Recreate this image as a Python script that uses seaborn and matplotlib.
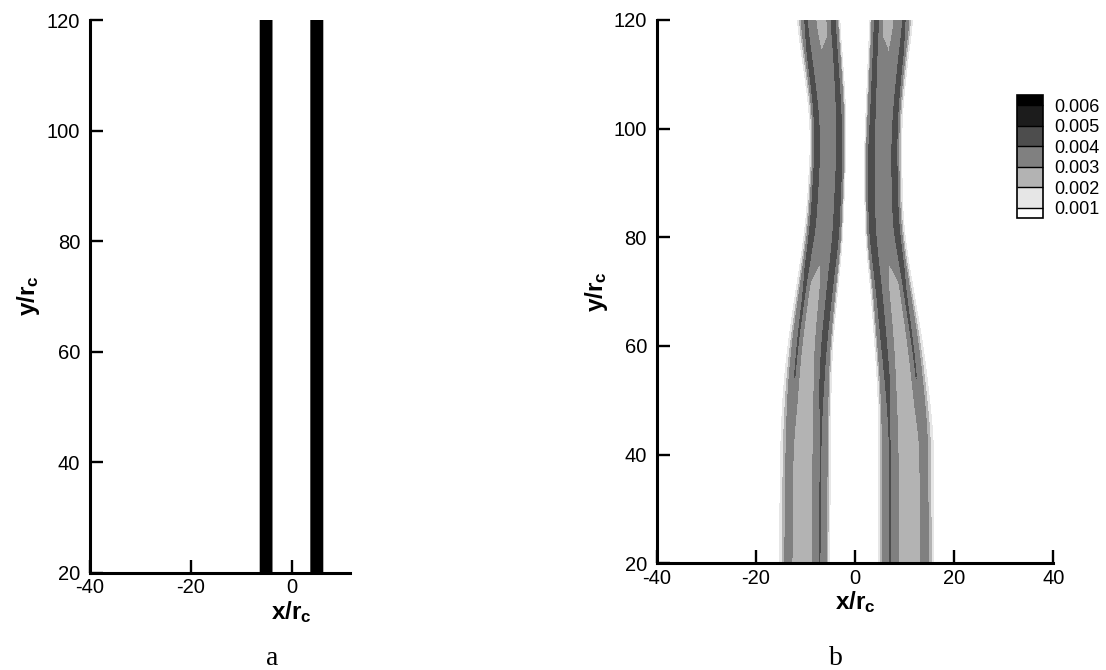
import numpy as np
import matplotlib
matplotlib.use("Agg")
import matplotlib.pyplot as plt
import seaborn as sns
from matplotlib.colors import ListedColormap

# ---------------- data ----------------
levels = [0.001, 0.002, 0.003, 0.004, 0.005, 0.006]
level_labels = ["0.001", "0.002", "0.003", "0.004", "0.005", "0.006"]
band_colors = ["#e6e6e6", "#b3b3b3", "#808080", "#4d4d4d", "#1c1c1c"]
under_color = "#ffffff"
over_color = "#000000"

xticks_a = [-40, -20, 0]
xticks_b = [-40, -20, 0, 20, 40]
yticks = [20, 40, 60, 80, 100, 120]
xlim_a = (-40, 11.6)
xlim_b = (-40, 40)
ylim = (20, 120)

# panel a: two straight bands (x/rc edges), uniform along y
a_y = [20, 120]
a_left_outer = [-6.4, -6.4]
a_left_inner = [-3.7, -3.7]
a_right_inner = [3.6, 3.6]
a_right_outer = [6.4, 6.4]
a_prof_s = [0.0, 0.1, 0.9, 1.0]
a_prof_y = [20, 120]
a_prof_v = [[1.5, 6.8, 6.8, 1.5],
            [1.5, 6.8, 6.8, 1.5]]   # x 1e-3

# panel b: curved bands, edges read at several heights
b_y = [20, 30, 43, 52, 60, 70, 78, 84, 96, 103, 112, 120]
b_left_outer = [-15.3, -15.2, -15.0, -14.5, -13.6, -12.0, -10.6, -9.8, -9.0, -9.2, -10.5, -11.8]
b_left_inner = [-5.1, -5.0, -4.9, -4.8, -4.5, -3.5, -2.6, -2.3, -1.8, -1.8, -2.4, -3.1]
b_right_inner = [4.8, 4.8, 4.8, 4.6, 4.0, 3.2, 2.3, 2.0, 1.9, 2.2, 2.6, 3.0]
b_right_outer = [16.0, 16.0, 15.9, 14.9, 13.8, 11.9, 10.4, 9.7, 9.4, 9.6, 10.6, 11.8]

# across-band profile (outer edge s=0 -> inner edge s=1), values x 1e-3
b_prof_s = [0.0, 0.04, 0.09, 0.14, 0.22, 0.32, 0.5, 0.68, 0.76, 0.80, 0.86, 0.93, 0.97, 1.0]
b_prof_y = [20, 43, 52, 70, 74, 79, 96, 103, 112, 120]
b_prof_v = [
    [0.9, 1.6, 2.7, 3.4, 3.2, 2.6, 2.5, 3.1, 3.7, 4.05, 3.6, 3.1, 1.7, 0.9],
    [0.9, 1.6, 2.7, 3.4, 3.2, 2.6, 2.5, 3.1, 3.7, 4.05, 3.6, 3.1, 1.7, 0.9],
    [0.9, 1.6, 2.8, 3.6, 4.02, 2.9, 2.6, 3.1, 4.05, 4.2, 3.9, 3.2, 1.7, 0.9],
    [0.9, 1.6, 3.0, 3.9, 4.1, 2.95, 2.7, 3.4, 4.15, 4.3, 4.1, 3.3, 1.7, 0.9],
    [0.9, 1.6, 3.1, 4.0, 4.1, 3.0, 2.75, 3.5, 4.2, 4.3, 4.1, 3.4, 1.7, 0.9],
    [0.9, 1.8, 3.3, 4.15, 4.2, 3.8, 3.5, 3.6, 4.1, 4.3, 4.2, 3.8, 1.9, 0.9],
    [0.9, 1.8, 3.3, 4.15, 4.2, 3.8, 3.5, 3.6, 4.1, 4.3, 4.2, 3.8, 1.9, 0.9],
    [0.9, 1.7, 3.2, 4.1, 4.15, 3.7, 3.4, 3.6, 4.1, 4.25, 4.1, 3.3, 1.7, 0.9],
    [0.9, 1.7, 3.1, 4.05, 4.1, 3.6, 3.1, 3.3, 3.9, 4.15, 4.15, 3.5, 1.7, 0.9],
    [0.9, 1.7, 3.0, 3.9, 4.1, 3.4, 2.7, 2.8, 3.6, 4.05, 4.2, 3.8, 1.8, 0.9],
]

# ---------------- style ----------------
sns.set_theme(style="white")
plt.rcParams["font.family"] = ["Liberation Sans", "DejaVu Sans"]
plt.rcParams["mathtext.fontset"] = "custom"
plt.rcParams["mathtext.rm"] = "Liberation Sans"
plt.rcParams["mathtext.bf"] = "Liberation Sans:bold"
plt.rcParams["mathtext.it"] = "Liberation Sans:italic"
plt.rcParams["axes.axisbelow"] = False

W, H = 1106, 670
fig = plt.figure(figsize=(W / 100, H / 100), dpi=100)
fig.patch.set_facecolor("white")

cmap = ListedColormap(band_colors)
cmap.set_under(under_color)
cmap.set_over(over_color)


def smooth(arr, win):
    if win <= 1:
        return arr
    pad = win // 2
    p = np.pad(arr, pad, mode="edge")
    k = np.ones(win) / win
    return np.convolve(p, k, mode="valid")


def band_field(xg, yg, yk, edge_outer, edge_inner, s_k, prof_y, prof_rows, win=1):
    rows = np.asarray(prof_rows, dtype=float) * 1e-3
    o_all = smooth(np.interp(yg, yk, edge_outer), win)
    i_all = smooth(np.interp(yg, yk, edge_inner), win)
    v_all = np.stack([smooth(np.interp(yg, prof_y, rows[:, k]), win)
                      for k in range(rows.shape[1])], axis=1)
    Z = np.zeros((len(yg), len(xg)))
    for j in range(len(yg)):
        o, i = o_all[j], i_all[j]
        s = (xg - o) / (i - o)
        m = (s >= 0) & (s <= 1)
        Z[j, m] = np.interp(s[m], s_k, v_all[j])
    return Z


def style_axes(ax, xlim, xticks):
    ax.set_xlim(*xlim)
    ax.set_ylim(*ylim)
    ax.set_xticks(xticks)
    ax.set_yticks(yticks)
    ax.set_xticklabels([str(t) for t in xticks])
    ax.set_yticklabels([str(t) for t in yticks])
    for side in ("top", "right"):
        ax.spines[side].set_visible(False)
    for side in ("left", "bottom"):
        ax.spines[side].set_linewidth(2.2)
        ax.spines[side].set_color("black")
        ax.spines[side].set_capstyle("projecting")
        ax.spines[side].set_zorder(5)
    ax.tick_params(axis="both", which="major", direction="in", length=9.5, width=1.7,
                   colors="black", labelsize=14.5, bottom=True, left=True,
                   top=False, right=False)
    ax.tick_params(axis="x", pad=4)
    ax.tick_params(axis="y", pad=7)
    ax.set_axisbelow(False)
    ax.set_facecolor("white")
    ax.grid(False)


# ---------------- panel a ----------------
axa = fig.add_axes([90 / W, 1 - 572.7 / H, 260 / W, 552.7 / H])
xa = np.linspace(xlim_a[0], xlim_a[1], 1400)
ya = np.linspace(ylim[0], ylim[1], 60)
Za = np.maximum(
    band_field(xa, ya, a_y, a_left_outer, a_left_inner, a_prof_s, a_prof_y, a_prof_v),
    band_field(xa, ya, a_y, a_right_outer, a_right_inner, a_prof_s, a_prof_y, a_prof_v),
)
csa = axa.contourf(xa, ya, Za, levels=levels, cmap=cmap, extend="both")
csa.set_zorder(0.5)
style_axes(axa, xlim_a, xticks_a)

# ---------------- panel b ----------------
axb = fig.add_axes([656.7 / W, 1 - 563.3 / H, 396.5 / W, 543.3 / H])
xb = np.linspace(xlim_b[0], xlim_b[1], 1400)
yb = np.linspace(ylim[0], ylim[1], 501)
Zb = np.maximum(
    band_field(xb, yb, b_y, b_left_outer, b_left_inner, b_prof_s, b_prof_y, b_prof_v, win=41),
    band_field(xb, yb, b_y, b_right_outer, b_right_inner, b_prof_s, b_prof_y, b_prof_v, win=41),
)
csb = axb.contourf(xb, yb, Zb, levels=levels, cmap=cmap, extend="both")
csb.set_zorder(0.5)
style_axes(axb, xlim_b, xticks_b)

# colour legend
cax = fig.add_axes([1017.3 / W, 1 - 218 / H, 26 / W, 123 / H])
cb = fig.colorbar(csb, cax=cax, extendrect=True, extendfrac=0.1,
                  drawedges=True, ticks=levels)
cb.ax.set_yticklabels(level_labels)
cb.ax.tick_params(length=0, labelsize=13, pad=8, colors="black", right=True, left=False)
cb.outline.set_linewidth(1.2)
cb.outline.set_edgecolor("black")
cb.dividers.set_linewidth(1.0)
cb.dividers.set_color("black")

# axis labels
lab_kw = dict(fontsize=17.5, color="black")
fig.text(291 / W, 1 - 619 / H, r"$\mathbf{x/r_c}$", ha="center", va="baseline", **lab_kw)
fig.text(855 / W, 1 - 609.5 / H, r"$\mathbf{x/r_c}$", ha="center", va="baseline", **lab_kw)
fig.text(28 / W, 1 - 296 / H, r"$\mathbf{y/r_c}$", ha="center", va="center",
         rotation=90, **lab_kw)
fig.text(596 / W, 1 - 291.7 / H, r"$\mathbf{y/r_c}$", ha="center", va="center",
         rotation=90, **lab_kw)

# captions
cap_kw = dict(fontsize=20, family="Liberation Serif", color="black",
              ha="center", va="baseline")
fig.text(272 / W, 1 - 665 / H, "a", **cap_kw)
fig.text(836 / W, 1 - 665 / H, "b", **cap_kw)

fig.savefig("out.png", dpi=100, facecolor="white")
